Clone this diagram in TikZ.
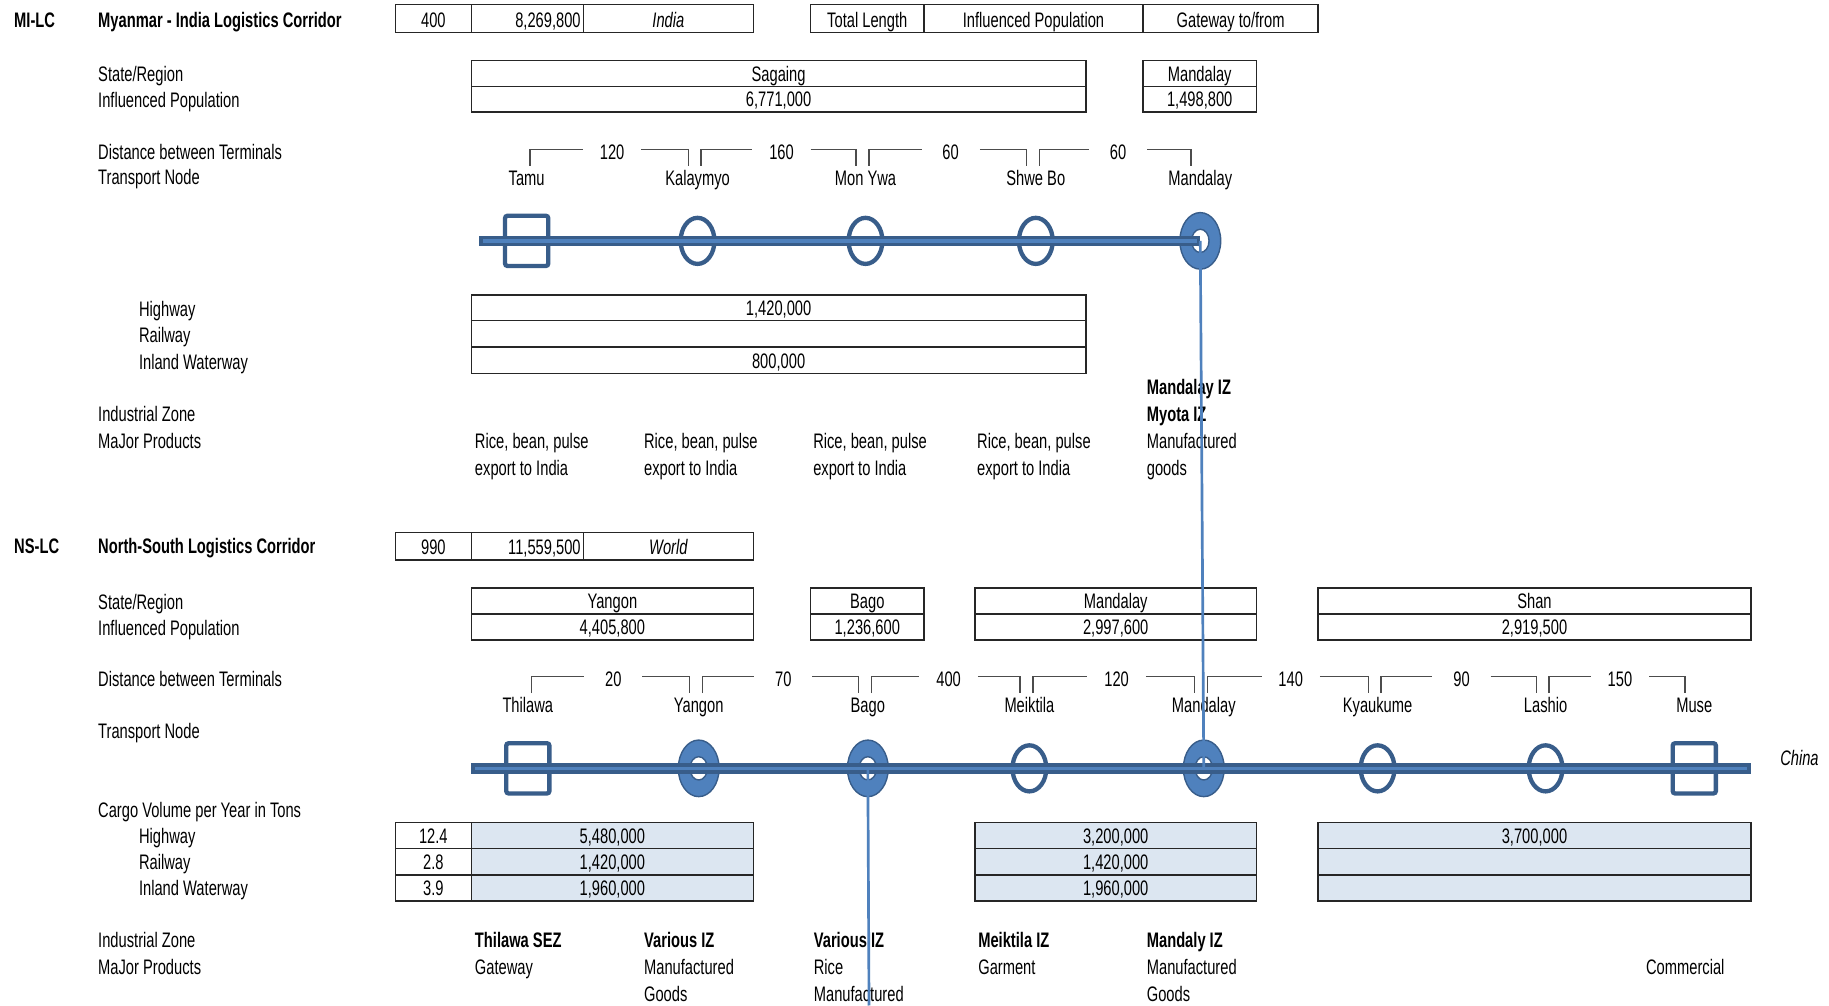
\documentclass[tikz,border=0pt]{standalone}
\usepackage{fontspec}
\setmainfont{Liberation Sans}[FakeStretch=0.70]
\usetikzlibrary{calc,shapes.geometric}
\definecolor{nodeblue}{HTML}{4F81BD}
\definecolor{edgeblue}{HTML}{385D8A}
\definecolor{cellblue}{HTML}{DCE6F1}
\newcommand{\cellfont}{\fontsize{18}{22}\selectfont}
\tikzset{
  every node/.style={font=\cellfont},
  txt/.style={anchor=base west,inner sep=0pt},
  ctxt/.style={anchor=base,inner sep=0pt},
  hdr/.style={txt,font=\cellfont\bfseries},
  cellbox/.style={draw=black!85,line width=1.2pt},
  distline/.style={draw=black!70,line width=1.2pt},
  terminal/.style={ellipse,draw=edgeblue,line width=3.7pt,minimum width=29pt,minimum height=39.5pt,inner sep=0pt},
  hub/.style={ellipse,draw=edgeblue,fill=nodeblue,line width=1.2pt,minimum width=35pt,minimum height=48.5pt,inner sep=0pt,
    path picture={\draw[edgeblue,fill=white,line width=1.2pt] (path picture bounding box.center) ellipse [x radius=7.5pt,y radius=10pt];}},
  gateway/.style={rectangle,rounded corners=2pt,draw=edgeblue,line width=3.7pt,minimum width=37pt,minimum height=43pt,inner sep=0pt},
  track/.style={draw=edgeblue,line width=9pt,postaction={draw=nodeblue,line width=3pt,shorten <=3pt,shorten >=3pt}},
  feeder/.style={draw=nodeblue,line width=2.3pt}
}
% box with one centred value
\newcommand{\gridcell}[7][]{%
    \draw[cellbox,#1] (#3,#4) rectangle (#5,#6);
    \node[ctxt] (#2) at ({(#3+#5)/2},{#6-4.5}) {#7};
}
% distance bracket between two terminals
\newcommand{\distbar}[3]{%
    \draw[distline] ($(#1)+(3,-64.5)$) |- ($(#1)!.5!(#2)+(-25,-78.5)$);
    \draw[distline] ($(#1)!.5!(#2)+(25,-78.5)$) -| ($(#2)+(-8,-64.5)$);
    \node[ctxt] (d#1) at ($(#1)!.5!(#2)+(0,-70)$) {#3};
}

\begin{document}
\begin{tikzpicture}[x=1pt,y=-1pt]
    \fill[white] (0,0) rectangle (1568,862);
    \useasboundingbox (0,0) rectangle (1568,862);

    % Myanmar - India corridor
    \node[hdr] (milc) at (12,23.5) {MI-LC};
    \node[hdr] (mititle) at (84,23.5) {Myanmar - India Logistics Corridor};
    \gridcell{milen}{339}{4}{404}{28}{400}
    \draw[cellbox] (404,4) rectangle (500,28);
    \node[txt,anchor=base east] (mipop) at (498,23.5) {8,269,800};
    \gridcell{migate}{500}{4}{646}{28}{\itshape India}
    \gridcell{hlen}{695}{4}{792}{28}{Total Length}
    \gridcell{hpop}{792}{4}{980}{28}{Influenced Population}
    \gridcell{hgate}{980}{4}{1130}{28}{Gateway to/from}

    \node[txt] (mistate) at (84,70) {State/Region};
    \node[txt] (mipopl) at (84,92.5) {Influenced Population};
    \gridcell{misag}{404}{52}{931}{74}{Sagaing}
    \gridcell{misagpop}{404}{74}{931}{96}{6,771,000}
    \gridcell{mimdy}{980}{52}{1077}{74}{Mandalay}
    \gridcell{mimdypop}{980}{74}{1077}{96}{1,498,800}

    \node[txt] (midist) at (84,136.5) {Distance between Terminals};
    \node[txt] (minode) at (84,158.5) {Transport Node};

    \node[gateway] (tamu) at (451.5,206.5) {};
    \node[terminal] (kalaymyo) at (598,206.5) {};
    \node[terminal] (monywa) at (742,206.5) {};
    \node[terminal] (shwebo) at (888,206.5) {};
    \node[hub] (mdymi) at (1029,206.5) {};
    \coordinate (mistart) at (411,206.5);
    \draw[track] (mistart) -- (mdymi.center);
    \foreach \s/\t in {tamu/Tamu,kalaymyo/Kalaymyo,monywa/Mon Ywa,shwebo/Shwe Bo,mdymi/Mandalay}
        \node[ctxt] (l\s) at ($(\s)+(0,-47.5)$) {\t};
    \distbar{tamu}{kalaymyo}{120}
    \distbar{kalaymyo}{monywa}{160}
    \distbar{monywa}{shwebo}{60}
    \distbar{shwebo}{mdymi}{60}

    \node[txt] (mihwy) at (119,271.5) {Highway};
    \node[txt] (mirail) at (119,293.5) {Railway};
    \node[txt] (miiwt) at (119,316.5) {Inland Waterway};
    \gridcell{mihwyv}{404}{253}{931}{275}{1,420,000}
    \draw[cellbox] (404,275) rectangle (931,297.5);
    \gridcell{miiwtv}{404}{297.5}{931}{320}{800,000}

    \node[txt] (miiz) at (84,361.5) {Industrial Zone};
    \node[txt] (miprod) at (84,384.5) {MaJor Products};
    \foreach \x [count=\i] in {407,552,697,837.5} {
        \node[txt] (rice\i) at (\x,384.5) {Rice, bean, pulse};
        \node[txt] (export\i) at (\x,407.5) {export to India};
    }
    \node[hdr] (mdyiz) at (983,338) {Mandalay IZ};
    \node[hdr] (myotaiz) at (983,361.5) {Myota IZ};
    \node[txt] (mdyprod) at (983,384.5) {Manufactured};
    \node[txt] (mdygoods) at (983,407.5) {goods};

    % North-South corridor
    \node[hdr] (nslc) at (12,474.5) {NS-LC};
    \node[hdr] (nstitle) at (84,474.5) {North-South Logistics Corridor};
    \gridcell{nslen}{339}{456.5}{404}{480}{990}
    \draw[cellbox] (404,456.5) rectangle (500,480);
    \node[txt,anchor=base east] (nspop) at (498,475.5) {11,559,500};
    \gridcell{nsgate}{500}{456.5}{646}{480}{\itshape World}

    \node[txt] (nsstate) at (84,522.5) {State/Region};
    \node[txt] (nspopl) at (84,545) {Influenced Population};
    \gridcell{ygn}{404}{504}{646}{526.5}{Yangon}
    \gridcell{ygnpop}{404}{526.5}{646}{548.5}{4,405,800}
    \gridcell{bgo}{695}{504}{792}{526.5}{Bago}
    \gridcell{bgopop}{695}{526.5}{792}{548.5}{1,236,600}
    \gridcell{mdy}{836}{504}{1077}{526.5}{Mandalay}
    \gridcell{mdypop}{836}{526.5}{1077}{548.5}{2,997,600}
    \gridcell{shn}{1130}{504}{1501}{526.5}{Shan}
    \gridcell{shnpop}{1130}{526.5}{1501}{548.5}{2,919,500}

    \node[txt] (nsdist) at (84,588.5) {Distance between Terminals};
    \node[txt] (nsnode) at (84,633.5) {Transport Node};

    \node[gateway] (thilawa) at (452.5,658.7) {};
    \node[hub] (yangon) at (599,658.7) {};
    \node[hub] (bago) at (744,658.7) {};
    \node[terminal] (meiktila) at (882.5,658.7) {};
    \node[hub] (mdyns) at (1032,658.7) {};
    \node[terminal] (kyaukume) at (1181,658.7) {};
    \node[terminal] (lashio) at (1325,658.7) {};
    \node[gateway] (muse) at (1452.5,658.7) {};
    \coordinate (nsstart) at (404,658.7);
    \coordinate (nsend) at (1501,658.7);
    \draw[track] (nsstart) -- (nsend);
    \node[txt,font=\cellfont\itshape] (china) at (1526,656) {China};
    \foreach \s/\t in {thilawa/Thilawa,yangon/Yangon,bago/Bago,meiktila/Meiktila,mdyns/Mandalay,kyaukume/Kyaukume,lashio/Lashio,muse/Muse}
        \node[ctxt] (l\s) at ($(\s)+(0,-47.5)$) {\t};
    \distbar{thilawa}{yangon}{20}
    \distbar{yangon}{bago}{70}
    \distbar{bago}{meiktila}{400}
    \distbar{meiktila}{mdyns}{120}
    \distbar{mdyns}{kyaukume}{140}
    \distbar{kyaukume}{lashio}{90}
    \distbar{lashio}{muse}{150}

    \node[txt] (nscargo) at (84,700.5) {Cargo Volume per Year in Tons};
    \node[txt] (nshwy) at (119,723) {Highway};
    \node[txt] (nsrail) at (119,745.5) {Railway};
    \node[txt] (nsiwt) at (119,768) {Inland Waterway};
    \gridcell{hwyshare}{339}{705}{404}{727.5}{12.4}
    \gridcell{railshare}{339}{727.5}{404}{750}{2.8}
    \gridcell{iwtshare}{339}{750}{404}{772.5}{3.9}
    \gridcell[fill=cellblue]{ygnhwy}{404}{705}{646}{727.5}{5,480,000}
    \gridcell[fill=cellblue]{ygnrail}{404}{727.5}{646}{750}{1,420,000}
    \gridcell[fill=cellblue]{ygniwt}{404}{750}{646}{772.5}{1,960,000}
    \gridcell[fill=cellblue]{mdyhwy}{836}{705}{1077}{727.5}{3,200,000}
    \gridcell[fill=cellblue]{mdyrail}{836}{727.5}{1077}{750}{1,420,000}
    \gridcell[fill=cellblue]{mdyiwt}{836}{750}{1077}{772.5}{1,960,000}
    \gridcell[fill=cellblue]{shnhwy}{1130}{705}{1501}{727.5}{3,700,000}
    \draw[cellbox,fill=cellblue] (1130,727.5) rectangle (1501,750);
    \draw[cellbox,fill=cellblue] (1130,750) rectangle (1501,772.5);

    \node[txt] (nsiz) at (84,812.5) {Industrial Zone};
    \node[txt] (nsprod) at (84,835.5) {MaJor Products};
    \node[hdr] (thilawaiz) at (407,812.5) {Thilawa SEZ};
    \node[txt] (thilawaprod) at (407,835.5) {Gateway};
    \node[hdr] (yangoniz) at (552,812.5) {Various IZ};
    \node[txt] (yangonprod) at (552,835.5) {Manufactured};
    \node[txt] (yangongoods) at (552,858.5) {Goods};
    \node[hdr] (bagoiz) at (697.5,812.5) {Various IZ};
    \node[txt] (bagoprod) at (697.5,835.5) {Rice};
    \node[txt] (bagomanu) at (697.5,858.5) {Manufactured};
    \node[hdr] (meiktilaiz) at (838.5,812.5) {Meiktila IZ};
    \node[txt] (meiktilaprod) at (838.5,835.5) {Garment};
    \node[hdr] (mdyiz) at (983,812.5) {Mandaly IZ};
    \node[txt] (mdynsprod) at (983,835.5) {Manufactured};
    \node[txt] (mdynsgoods) at (983,858.5) {Goods};
    \node[txt] (museprod) at (1411,835.5) {Commercial};

    % links between the corridors
    \coordinate (bagoend) at (745,862);
    \draw[feeder] (mdymi.center) -- (mdyns.center);
    \draw[feeder] (bago.center) -- (bagoend);
\end{tikzpicture}
\end{document}
